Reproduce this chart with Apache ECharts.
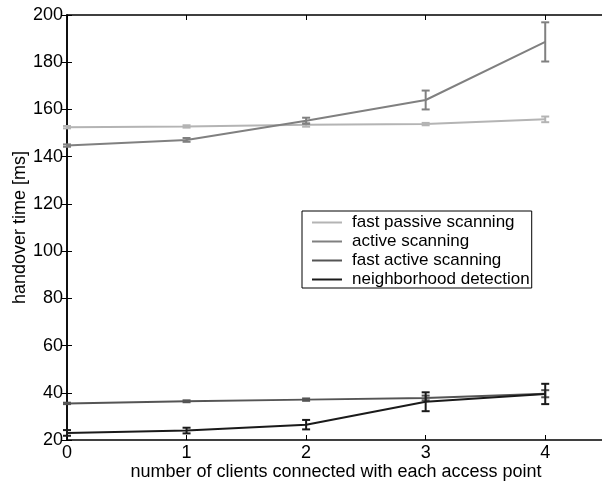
<!DOCTYPE html>
<html>
<head>
<meta charset="utf-8">
<script src="https://cdn.jsdelivr.net/npm/echarts@6/dist/echarts.min.js"></script>
<style>
  html, body { margin: 0; padding: 0; background: #fff; }
  #chart { width: 602px; height: 484px; }
</style>
</head>
<body>
<div id="chart"></div>
<script>
// Handover time vs. number of clients per access point
const clients = [0, 1, 2, 3, 4];
const seriesNames = ['fast passive scanning', 'active scanning', 'fast active scanning', 'neighborhood detection'];
const fastPassive = [152.5, 152.8, 153.5, 153.8, 155.8];
const fastPassiveErr = [0.5, 0.5, 0.8, 0.5, 1.2];
const activeScan = [144.7, 147.1, 155.2, 164.0, 188.6];
const activeErr = [0.5, 0.8, 1.3, 4.0, 8.3];
const fastActive = [35.5, 36.4, 37.1, 37.8, 39.6];
const fastActiveErr = [0.3, 0.4, 0.5, 1.0, 1.5];
const neighborhood = [23.0, 24.0, 26.5, 36.2, 39.5];
const neighborhoodErr = [1.2, 1.2, 2.0, 4.0, 4.3];
const yTicks = [20, 40, 60, 80, 100, 120, 140, 160, 180, 200];

const colors = ['#b4b4b4', '#808080', '#555555', '#1a1a1a'];
const means = [fastPassive, activeScan, fastActive, neighborhood];
const errs = [fastPassiveErr, activeErr, fastActiveErr, neighborhoodErr];
const FONT = 'Liberation Sans, Arial, Helvetica, sans-serif';

const chart = echarts.init(document.getElementById('chart'), null, { renderer: 'canvas' });

function errorBarItem(color) {
  return function (params, api) {
    const x = api.value(0);
    const lo = api.coord([x, api.value(1)]);
    const hi = api.coord([x, api.value(2)]);
    const hw = 4;
    const style = { stroke: color, lineWidth: 2, fill: null };
    return {
      type: 'group',
      children: [
        { type: 'line', shape: { x1: lo[0], y1: lo[1], x2: hi[0], y2: hi[1] }, style },
        { type: 'line', shape: { x1: lo[0] - hw, y1: lo[1], x2: lo[0] + hw, y2: lo[1] }, style },
        { type: 'line', shape: { x1: hi[0] - hw, y1: hi[1], x2: hi[0] + hw, y2: hi[1] }, style }
      ]
    };
  };
}

const series = [];
seriesNames.forEach(function (name, i) {
  series.push({
    name: name,
    type: 'line',
    data: clients.map(function (c, k) { return [c, means[i][k]]; }),
    showSymbol: false,
    symbol: 'none',
    lineStyle: { color: colors[i], width: 2 },
    itemStyle: { color: colors[i] },
    z: 3 + i,
    animation: false
  });
  series.push({
    name: name + ' error',
    type: 'custom',
    renderItem: errorBarItem(colors[i]),
    data: clients.map(function (c, k) { return [c, means[i][k] - errs[i][k], means[i][k] + errs[i][k]]; }),
    encode: { x: 0, y: [1, 2] },
    z: 3 + i,
    silent: true,
    animation: false
  });
});

const axisCommon = {
  axisLine: { show: true, lineStyle: { color: '#000', width: 1.5 } },
  axisTick: { show: true, inside: true, length: 5, lineStyle: { color: '#000', width: 1 } },
  splitLine: { show: false }
};

chart.setOption({
  animation: false,
  backgroundColor: '#fff',
  textStyle: { fontFamily: FONT },
  grid: { left: 67, top: 15, width: 538, height: 425, containLabel: false, outerBoundsMode: 'none' },
  legend: {
    data: seriesNames,
    orient: 'vertical',
    left: 302,
    top: 211,
    icon: 'rect',
    itemWidth: 30,
    itemHeight: 2,
    itemGap: 2,
    padding: [3, 2, 0, 10],
    borderColor: '#000',
    borderWidth: 1,
    borderRadius: 0,
    backgroundColor: '#fff',
    textStyle: { fontFamily: FONT, fontSize: 17, color: '#000', lineHeight: 17, padding: [0, 0, 0, 5] }
  },
  xAxis: [
    Object.assign({}, axisCommon, {
      type: 'value', min: 0, max: 4.5, interval: 1,
      name: 'number of clients connected with each access point',
      nameLocation: 'middle', nameGap: 23, nameMoveOverlap: false,
      nameTextStyle: { fontFamily: FONT, fontSize: 18, color: '#000', verticalAlign: 'top' },
      axisLabel: {
        fontFamily: FONT, fontSize: 18, color: '#000', margin: 4,
        formatter: function (v) { return Number.isInteger(v) && v <= 4 ? String(v) : ''; }
      }
    }),
    Object.assign({}, axisCommon, {
      type: 'value', min: 0, max: 4.5, interval: 1, position: 'top',
      axisLabel: { show: false }
    })
  ],
  yAxis: [
    Object.assign({}, axisCommon, {
      type: 'value', min: yTicks[0], max: yTicks[yTicks.length - 1], interval: 20,
      name: 'handover time [ms]',
      nameLocation: 'middle', nameGap: 38, nameMoveOverlap: false,
      nameTextStyle: { fontFamily: FONT, fontSize: 18, color: '#000' },
      axisLabel: { fontFamily: FONT, fontSize: 18, color: '#000', margin: 4 }
    }),
    Object.assign({}, axisCommon, {
      type: 'value', min: yTicks[0], max: yTicks[yTicks.length - 1], interval: 20, position: 'right',
      axisLabel: { show: false }
    })
  ],
  series: series
});
</script>
</body>
</html>
